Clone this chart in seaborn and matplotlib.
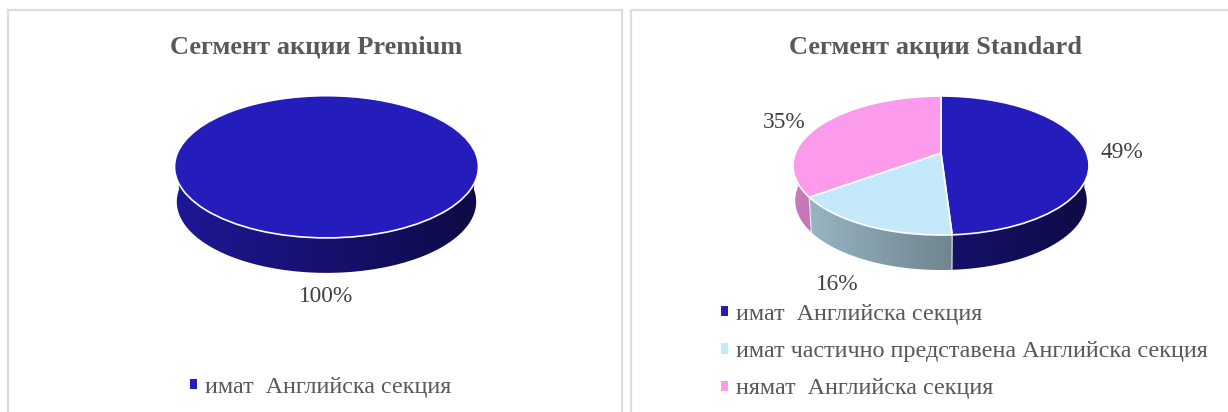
import numpy as np
import matplotlib
matplotlib.use("Agg")
import matplotlib.pyplot as plt
from matplotlib.transforms import Transform
from matplotlib.path import Path
from matplotlib.colors import to_rgb
import seaborn as sns

premium_title = "Сегмент акции Premium"
standard_title = "Сегмент акции Standard"
premium_categories = ["имат  Английска секция"]
premium_values = [100]
standard_categories = ["имат  Английска секция",
                       "имат частично представена Английска секция",
                       "нямат  Английска секция"]
standard_values = [49, 16, 35]
slice_colors = ["#251DBB", "#C3E9FA", "#FC9AEC"]

sns.set_theme(style="white")
plt.rcParams["font.family"] = ["Liberation Serif", "DejaVu Serif"]
TEXT = "#595959"
BORDER = "#DCDCDC"
W, H = 1228, 412
KEY = 0.18


class Tilted(Transform):
    """Perspective view of the unit pie, mapped to the axes' pixel-based data units."""
    input_dims = output_dims = 2
    is_separable = False
    has_inverse = False

    def __init__(self, cx, cy, a, b, shrink=1.0, drop=0.0):
        super().__init__()
        self.p = (cx, cy, a, b, shrink, drop)

    def transform_non_affine(self, values):
        cx, cy, a, b, shrink, drop = self.p
        v = np.asarray(values, float)
        w = 1 + KEY * v[:, 1]
        return np.column_stack([cx + shrink * a * v[:, 0] / w,
                                cy - b * v[:, 1] / w + drop])


def panel(box, title, title_xy, values, categories, depth, geom, label_xy, legend_xy, spacing):
    x0, x1, y0 = box
    ax = fig.add_axes([x0 / W, 0, (x1 - x0) / W, (H - y0) / H])
    palette = sns.color_palette(slice_colors[:len(values)])
    top = Tilted(*geom)
    wedges, _ = ax.pie(values, colors=palette, startangle=90, counterclock=False,
                       wedgeprops=dict(edgecolor="white", linewidth=1.2), frame=True)
    ax.set_aspect("auto")
    ax.set_xticks([])
    ax.set_yticks([])
    for name, sp in ax.spines.items():
        sp.set_color(BORDER)
        sp.set_linewidth(1.6)
    ax.spines["bottom"].set_visible(False)
    if x1 >= W:
        ax.spines["right"].set_visible(False)

    base = Tilted(*geom, shrink=0.985, drop=depth)
    cx, rx = geom[0], geom[2] / np.sqrt(1 - KEY ** 2)
    shares = np.cumsum([0] + list(values)) / sum(values) * 2 * np.pi
    xs = np.linspace(cx - rx, cx + rx, 300)
    u = (xs - xs[0]) / (xs[-1] - xs[0])
    fade = (0.80 - 0.43 * u)[None, :, None]
    for i, col in enumerate(palette):
        th = np.linspace(shares[i], shares[i + 1], 200)
        th = th[np.cos(th) < 0.02]
        if len(th) < 2:
            continue
        pts = np.column_stack([np.sin(th), np.cos(th)])
        up = top.transform_non_affine(pts)
        lo = base.transform_non_affine(pts)
        ring = np.vstack([up, lo[::-1], up[:1]])
        img = ax.imshow(fade * np.array(to_rgb(col))[None, None, :],
                        extent=(xs[0], xs[-1], geom[1] + 150, geom[1] - 80),
                        aspect="auto", interpolation="bilinear", zorder=1)
        img.set_clip_path(Path(ring), ax.transData)
        if len(values) > 1 and np.cos(shares[i + 1]) < 0:
            p = np.array([[np.sin(shares[i + 1]), np.cos(shares[i + 1])]])
            a, b = top.transform_non_affine(p), base.transform_non_affine(p)
            ax.plot([a[0, 0], b[0, 0]], [a[0, 1], b[0, 1]], color="#E8EEF0", lw=0.8, zorder=1.5)

    ax.set_aspect("auto")
    ax.set_xlim(x0, x1)
    ax.set_ylim(H, y0)

    for w in wedges:
        w.set_transform(top + ax.transData)
        w.set_zorder(2)

    ax.text(*title_xy, title, ha="center", va="center", fontsize=19.0,
            fontweight="bold", color=TEXT)
    for v, xy in zip(values, label_xy):
        ax.text(*xy, f"{v}%", ha="center", va="center", fontsize=16.8, color="#404040")

    leg = ax.legend(wedges, categories, loc="upper left", bbox_to_anchor=legend_xy,
                    bbox_transform=ax.transData, frameon=False, fontsize=17.4,
                    handlelength=0.27, handleheight=0.27, handletextpad=0.35,
                    labelspacing=spacing, borderpad=0, borderaxespad=0, labelcolor=TEXT)
    for p in leg.get_patches():
        p.set_edgecolor("none")


fig = plt.figure(figsize=(W / 100, H / 100), dpi=100, facecolor="white")
panel((8, 622, 9.5), premium_title, (316, 47), premium_values, premium_categories, 35,
      (326.5, 154, 149.5, 68.8), [(326, 297)], (190, 377), 0.67)
panel((631.5, 1229, 9.5), standard_title, (936, 47), standard_values, standard_categories, 35,
      (941, 153, 145.6, 67.25), [(1122, 153), (837, 284.5), (784, 122)], (721, 304), 0.67)
fig.savefig("out.png", dpi=100)
